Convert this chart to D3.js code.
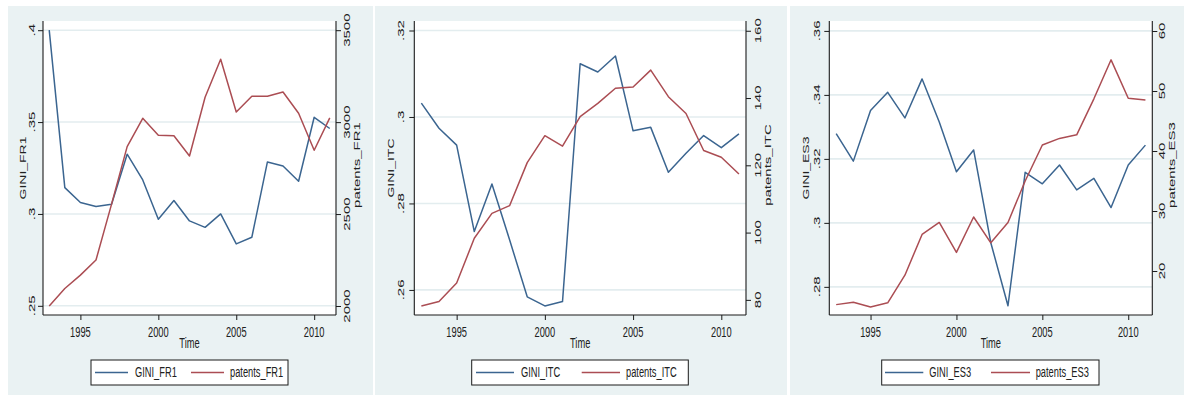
<!DOCTYPE html>
<html>
<head>
<meta charset="utf-8">
<script src="https://cdn.jsdelivr.net/npm/d3@7"></script>
<style>
  html, body { margin: 0; padding: 0; background: #ffffff; }
  svg { display: block; font-family: "Liberation Sans", Arial, Helvetica, sans-serif; }
</style>
</head>
<body>
<svg id="chart" width="1184" height="396"></svg>
<script>
// ---- data -------------------------------------------------------------
const years = [1993, 1994, 1995, 1996, 1997, 1998, 1999, 2000, 2001, 2002,
               2003, 2004, 2005, 2006, 2007, 2008, 2009, 2010, 2011];

const giniFR1 = [0.400, 0.3143, 0.3062, 0.3040, 0.3053, 0.3325, 0.3185, 0.2971, 0.3073, 0.2962,
                 0.2927, 0.3000, 0.2837, 0.2873, 0.3283, 0.3261, 0.3178, 0.3526, 0.3465];
const patentsFR1 = [2000, 2095, 2168, 2250, 2554, 2867, 3021, 2928, 2926, 2816,
                    3135, 3342, 3055, 3141, 3141, 3164, 3048, 2847, 3023];

const giniITC = [0.3032, 0.2974, 0.2935, 0.2735, 0.2845, 0.2716, 0.2584, 0.2563, 0.2573, 0.3123,
                 0.3104, 0.3141, 0.2968, 0.2976, 0.2872, 0.2916, 0.2957, 0.2929, 0.2961];
const patentsITC = [78.2, 79.5, 85.0, 98.3, 105.7, 108.0, 120.8, 128.8, 125.7, 134.5,
                    138.4, 142.9, 143.3, 148.3, 140.4, 135.4, 124.4, 122.4, 117.4];

const giniES3 = [0.3279, 0.3193, 0.3351, 0.3408, 0.3328, 0.3450, 0.3315, 0.3160, 0.3228, 0.2938,
                 0.2741, 0.3158, 0.3122, 0.3181, 0.3103, 0.3139, 0.3048, 0.3181, 0.3243];
const patentsES3 = [14.4, 14.8, 14.0, 14.7, 19.3, 26.1, 28.1, 23.1, 29.0, 24.7,
                    28.1, 35.0, 41.0, 42.1, 42.7, 48.7, 55.2, 48.8, 48.5];

// ---- ticks ------------------------------------------------------------
const yearTicks = [1995, 2000, 2005, 2010];
const yearTickLabels = ["1995", "2000", "2005", "2010"];

const giniFR1Ticks = [0.25, 0.30, 0.35, 0.40];
const giniFR1TickLabels = [".25", ".3", ".35", ".4"];
const patentsFR1Ticks = [2000, 2500, 3000, 3500];
const patentsFR1TickLabels = ["2000", "2500", "3000", "3500"];

const giniITCTicks = [0.26, 0.28, 0.30, 0.32];
const giniITCTickLabels = [".26", ".28", ".3", ".32"];
const patentsITCTicks = [80, 100, 120, 140, 160];
const patentsITCTickLabels = ["80", "100", "120", "140", "160"];

const giniES3Ticks = [0.28, 0.30, 0.32, 0.34, 0.36];
const giniES3TickLabels = [".28", ".3", ".32", ".34", ".36"];
const patentsES3Ticks = [20, 30, 40, 50, 60];
const patentsES3TickLabels = ["20", "30", "40", "50", "60"];

// ---- panel setup --------------------------------------------------------
const yearDomain = [1992.6, 2011.4];

const panels = [
  {
    gini: giniFR1, patents: patentsFR1, giniName: "GINI_FR1", patName: "patents_FR1",
    giniDomain: [0.245, 0.405], patDomain: [1951, 3550],
    giniTicks: giniFR1Ticks, giniLabels: giniFR1TickLabels,
    patTicks: patentsFR1Ticks, patLabels: patentsFR1TickLabels,
    bg: [8, 6, 373, 395], plot: { l: 43, r: 336, t: 21, b: 315 },
    lLab: 31.7, lTitle: 22.5, rLab: 347.5, rTitle: 357.5,
    legend: { x0: 91, x1: 288, l1: [95, 128], t1: 135, l2: [191, 224], t2: 230 }
  },
  {
    gini: giniITC, patents: patentsITC, giniName: "GINI_ITC", patName: "patents_ITC",
    giniDomain: [0.2542, 0.3222], patDomain: [75.5, 162.9],
    giniTicks: giniITCTicks, giniLabels: giniITCTickLabels,
    patTicks: patentsITCTicks, patLabels: patentsITCTickLabels,
    bg: [375, 6, 787, 395], plot: { l: 414.3, r: 746, t: 21, b: 315 },
    lLab: 401, lTitle: 391, rLab: 758.5, rTitle: 768.5,
    legend: { x0: 471.7, x1: 688.3, l1: [476, 514], t1: 521, l2: [581.7, 620], t2: 626 }
  },
  {
    gini: giniES3, patents: patentsES3, giniName: "GINI_ES3", patName: "patents_ES3",
    giniDomain: [0.2712, 0.3631], patDomain: [12.67, 61.67],
    giniTicks: giniES3Ticks, giniLabels: giniES3TickLabels,
    patTicks: patentsES3Ticks, patLabels: patentsES3TickLabels,
    bg: [790, 6, 1184, 395], plot: { l: 829.3, r: 1152.3, t: 21, b: 315 },
    lLab: 817.3, lTitle: 805.5, rLab: 1162.5, rTitle: 1172.5,
    legend: { x0: 881.7, x1: 1099, l1: [885, 923.3], t1: 929.3, l2: [991, 1030], t2: 1035.7 }
  }
];

// ---- styles -------------------------------------------------------------
const BG = "#eaf2f3";
const GRID = "#e3edef";
const AXIS = "#1a1a1a";
const TEXT = "#202020";
const BLUE = "#3b6590";
const RED = "#ab4d53";
const SX = 0.62;          // horizontal squeeze applied to all lettering
const FS = 15;            // font size

const svg = d3.select("#chart");

function label(g, s, x, y, opt = {}) {
  const rot = opt.rot || 0;
  return g.append("text")
    .attr("transform", `translate(${x},${y}) scale(${SX},1)` + (rot ? ` rotate(${rot})` : ""))
    .attr("text-anchor", opt.anchor || "middle")
    .attr("dominant-baseline", "central")
    .attr("font-size", opt.size || FS)
    .attr("fill", TEXT)
    .text(s);
}

panels.forEach(p => {
  const g = svg.append("g");
  const [bx0, by0, bx1, by1] = p.bg;
  const { l, r, t, b } = p.plot;

  // panel background and plot region
  g.append("rect").attr("x", bx0).attr("y", by0).attr("width", bx1 - bx0).attr("height", by1 - by0).attr("fill", BG);
  g.append("rect").attr("x", l).attr("y", t).attr("width", r - l).attr("height", b - t).attr("fill", "#ffffff");

  const x = d3.scaleLinear().domain(yearDomain).range([l, r]);
  const yL = d3.scaleLinear().domain(p.giniDomain).range([b, t]);
  const yR = d3.scaleLinear().domain(p.patDomain).range([b, t]);

  // horizontal gridlines on the left-axis ticks
  g.append("g").selectAll("line").data(p.giniTicks).join("line")
    .attr("x1", l).attr("x2", r)
    .attr("y1", d => yL(d)).attr("y2", d => yL(d))
    .attr("stroke", GRID).attr("stroke-width", 1.6);

  // tick marks from the D3 axes; plain lines frame the plot region
  const axL = g.append("g").attr("transform", `translate(${l},0)`)
    .call(d3.axisLeft(yL).tickValues(p.giniTicks).tickSize(5).tickFormat(""));
  const axR = g.append("g").attr("transform", `translate(${r},0)`)
    .call(d3.axisRight(yR).tickValues(p.patTicks).tickSize(5).tickFormat(""));
  const axB = g.append("g").attr("transform", `translate(0,${b})`)
    .call(d3.axisBottom(x).tickValues(yearTicks).tickSize(5).tickFormat(""));
  [axL, axR, axB].forEach(a => {
    a.select(".domain").remove();
    a.selectAll(".tick line").attr("stroke", AXIS).attr("stroke-width", 1);
  });
  g.append("line").attr("x1", l).attr("x2", l).attr("y1", t).attr("y2", b).attr("stroke", AXIS).attr("stroke-width", 1.1);
  g.append("line").attr("x1", r).attr("x2", r).attr("y1", t).attr("y2", b).attr("stroke", AXIS).attr("stroke-width", 1.1);
  g.append("line").attr("x1", l).attr("x2", r).attr("y1", b).attr("y2", b).attr("stroke", AXIS).attr("stroke-width", 1.1);

  // tick labels
  p.giniTicks.forEach((v, i) => label(g, p.giniLabels[i], p.lLab, yL(v), { rot: -90 }));
  p.patTicks.forEach((v, i) => label(g, p.patLabels[i], p.rLab, yR(v), { rot: -90 }));
  yearTicks.forEach((v, i) => label(g, yearTickLabels[i], x(v), 332));

  // axis titles
  const midY = (t + b) / 2;
  label(g, p.giniName, p.lTitle, midY, { rot: -90, size: 14 });
  label(g, p.patName, p.rTitle, midY - 3, { rot: -90 });
  label(g, "Time", (l + r) / 2, 343.5);

  // series
  const giniLine = d3.line().x((d, i) => x(years[i])).y(d => yL(d));
  const patLine = d3.line().x((d, i) => x(years[i])).y(d => yR(d));
  g.append("path").datum(p.gini).attr("d", giniLine)
    .attr("fill", "none").attr("stroke", BLUE).attr("stroke-width", 1.5).attr("stroke-linejoin", "round");
  g.append("path").datum(p.patents).attr("d", patLine)
    .attr("fill", "none").attr("stroke", RED).attr("stroke-width", 1.5).attr("stroke-linejoin", "round");

  // legend
  const lg = p.legend;
  const ly = 372.5;
  g.append("rect").attr("x", lg.x0).attr("y", 360).attr("width", lg.x1 - lg.x0).attr("height", 25)
    .attr("fill", "#ffffff").attr("stroke", AXIS).attr("stroke-width", 1);
  g.append("line").attr("x1", lg.l1[0]).attr("x2", lg.l1[1]).attr("y1", ly).attr("y2", ly)
    .attr("stroke", BLUE).attr("stroke-width", 1.5);
  label(g, p.giniName, lg.t1, ly, { anchor: "start" });
  g.append("line").attr("x1", lg.l2[0]).attr("x2", lg.l2[1]).attr("y1", ly).attr("y2", ly)
    .attr("stroke", RED).attr("stroke-width", 1.5);
  label(g, p.patName, lg.t2, ly, { anchor: "start" });
});
</script>
</body>
</html>
